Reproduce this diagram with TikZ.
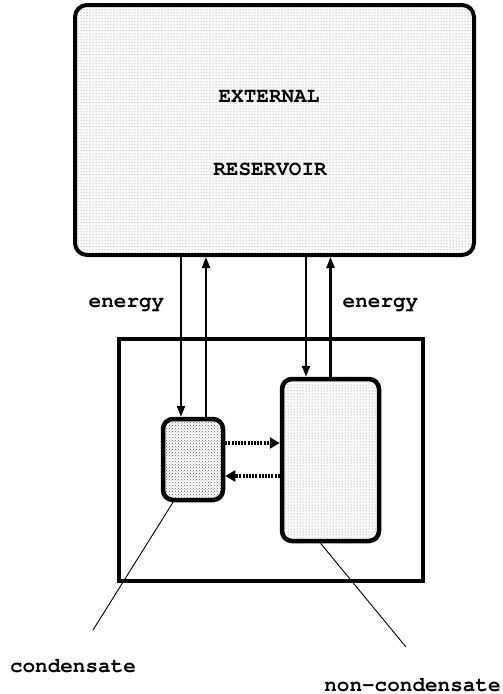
\documentclass[tikz,border=0pt]{standalone}
\usepackage[T1]{fontenc}
\usepackage{courier}
\usetikzlibrary{arrows.meta,patterns}
\begin{document}
\begin{tikzpicture}[x=1pt,y=-1pt,
  lab/.style={font=\ttfamily\bfseries\fontsize{21}{25}\selectfont, inner sep=0pt, anchor=base},
  reservoirbox/.style={draw, line width=4pt, rounded corners=12pt, pattern=dots, pattern color=black!60, minimum width=399pt, minimum height=250pt, inner sep=0pt},
  systembox/.style={draw, line width=4pt, minimum width=304pt, minimum height=242pt, inner sep=0pt},
  phasebox/.style={draw, line width=4.5pt, rounded corners=10pt, inner sep=0pt, pattern color=black!60},
  flow/.style={line width=2.3pt, -{Triangle[length=11pt,width=8pt]}},
  exchange/.style={line width=4pt, dash pattern=on 2pt off 1.2pt, -{Triangle[length=10pt,width=11pt]}},
  leader/.style={line width=0.9pt}]
\useasboundingbox (0,0) rectangle (503,694);
\node[reservoirbox] (top) at (274.5,130) {};
\node[systembox] (sys) at (271,460) {};
\node[phasebox, pattern=crosshatch dots, minimum width=60pt, minimum height=81pt] (c) at (193,459.5) {};
\node[phasebox, pattern=dots, minimum width=97pt, minimum height=162pt] (nc) at (330.5,460) {};
\draw[flow] ([xshift=-12pt]c.north |- top.south) -- ([xshift=-12pt]c.north);
\draw[flow] ([xshift=13pt]c.north) -- ([xshift=13pt]c.north |- top.south);
\draw[flow] ([xshift=-24.5pt]nc.north |- top.south) -- ([xshift=-24.5pt]nc.north);
\draw[flow] (nc.north) -- (nc.north |- top.south);
\draw[exchange] ([yshift=16.5pt]c.east) -- ([yshift=16.5pt]c.east -| nc.west);
\draw[exchange] ([yshift=-16.5pt]c.east -| nc.west) -- ([yshift=-16.5pt]c.east);
\coordinate (cl) at (93,630);
\coordinate (ncl) at (406,647);
\draw[leader] ([xshift=-20pt]c.south) -- (cl);
\draw[leader] ([xshift=-10pt]nc.south) -- (ncl);
\node[lab] (ext) at (269,102) {EXTERNAL};
\node[lab] (resv) at (270,175) {RESERVOIR};
\node[lab] (el) at (126.5,307) {energy};
\node[lab] (er) at (380.5,307) {energy};
\node[lab] (cond) at (73,672) {condensate};
\node[lab] (ncond) at (412.5,691) {non-condensate};
\end{tikzpicture}
\end{document}
